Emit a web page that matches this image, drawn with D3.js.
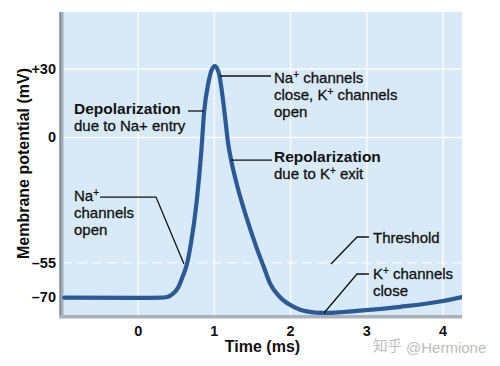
<!DOCTYPE html>
<html>
<head>
<meta charset="utf-8">
<script src="https://cdn.jsdelivr.net/npm/d3@7"></script>
<style>
  html, body { margin: 0; padding: 0; background: #ffffff; }
  svg { display: block; }
  text { font-family: "Liberation Sans", Arial, Helvetica, sans-serif; fill: #111; }
</style>
</head>
<body>
<svg id="chart" width="500" height="366"></svg>
<script>
// ---- data ----
const timeMs = [-0.97, 0, 0.3, 0.38, 0.46, 0.53, 0.59, 0.64, 0.69, 0.77, 0.83, 0.865, 0.92, 0.965, 1.008,
                1.06, 1.096, 1.14, 1.18, 1.22, 1.29, 1.42, 1.55, 1.65, 1.73, 1.86, 2.04, 2.21, 2.43,
                2.91, 3.44, 3.96, 4.25];
const potentialMv = [-70.3, -70.4, -70.3, -70, -68.5, -65.5, -60.5, -55.5, -47, -27.5, -5.5, 11, 23.7, 29.6, 31.3,
                     28, 20.8, 9, -2.5, -10, -20, -35, -48, -57, -64, -70, -74.3, -76.3, -77,
                     -76, -74.3, -72, -70];
const xTicks = [0, 1, 2, 3, 4];
const xTickLabels = ["0", "1", "2", "3", "4"];
const yTicks = [30, 0, -55, -70];
const yTickLabels = ["+30", "0", "\u201355", "\u201370"];
const yGrid = [30, 0];
const thresholdMv = -55;
const xTitle = "Time (ms)";
const yTitle = "Membrane potential (mV)";
const watermarkCjk = "知乎";
const watermarkLatin = "@Hermione";

// annotations: text lines ("^" marks a superscript char), leader path & text anchor in data units
const annotations = [
  { lines: [["Na", "^+", " channels"], ["close, K", "^+", " channels"], ["open"]], bold: [false, false, false],
    path: [[1.074, 26.93], [1.743, 26.93]], text: [1.783, 23.86] },
  { lines: [["Depolarization"], ["due to Na+ entry"]], bold: [true, false],
    path: [[0.654, 11.58], [0.864, 11.58]], text: [-0.842, 10.48] },
  { lines: [["Repolarization"], ["due to K", "^+", " exit"]], bold: [true, false],
    path: [[1.214, -9.95], [1.756, -9.95]], text: [1.783, -11.01] },
  { lines: [["Na", "^+"], ["channels"], ["open"]], bold: [false, false, false],
    path: [[-0.501, -26.18], [0.234, -26.18], [0.601, -55.57]], text: [-0.842, -27.9] },
  { lines: [["Threshold"]], bold: [false],
    path: [[3.029, -43.69], [2.872, -43.69], [2.531, -55.53]], text: [3.082, -46.3] },
  { lines: [["K", "^+", " channels"], ["close"]], bold: [false, false],
    path: [[3.029, -59.92], [2.872, -59.92], [2.439, -77.02]], text: [3.082, -62.1] }
];

// ---- layout ----
const svg = d3.select("#chart");
const pLeft = 62, pRight = 462, pTop = 12, pBottom = 315;
const x = d3.scaleLinear().domain([-1.0, 4.25]).range([pLeft, pRight]);
const y = d3.scaleLinear().domain([-77.9, 55.0]).range([pBottom, pTop]);

// panel background
svg.append("rect").attr("x", pLeft).attr("y", pTop).attr("width", pRight - pLeft).attr("height", pBottom - pTop)
  .attr("fill", "#d8eaf7");

// grid
svg.append("g").selectAll("line").data(xTicks).join("line")
  .attr("x1", d => x(d)).attr("x2", d => x(d)).attr("y1", pTop).attr("y2", pBottom)
  .attr("stroke", "#ffffff").attr("stroke-width", 1.5).attr("opacity", 0.9);
svg.append("g").selectAll("line").data(yGrid).join("line")
  .attr("x1", pLeft).attr("x2", pRight).attr("y1", d => y(d)).attr("y2", d => y(d))
  .attr("stroke", "#ffffff").attr("stroke-width", 1.5).attr("opacity", 0.9);
svg.append("line").attr("x1", pLeft).attr("x2", pRight).attr("y1", y(thresholdMv)).attr("y2", y(thresholdMv))
  .attr("stroke", "#ffffff").attr("stroke-width", 1.3).attr("stroke-dasharray", "10,5").attr("opacity", 0.85);

// frame bars (left and bottom)
svg.append("rect").attr("x", pLeft - 3).attr("y", pTop).attr("width", 4.5).attr("height", pBottom - pTop + 3)
  .attr("fill", "#a3aeb8");
svg.append("line").attr("x1", pLeft - 1.5).attr("x2", pLeft - 1.5).attr("y1", pTop).attr("y2", pBottom + 3)
  .attr("stroke", "#7f8e9b").attr("stroke-width", 1.2);
svg.append("rect").attr("x", pLeft - 3).attr("y", pBottom).attr("width", pRight - pLeft + 3).attr("height", 3.5)
  .attr("fill", "#aab3bb");

// curve
svg.append("defs").append("clipPath").attr("id", "clip").append("rect")
  .attr("x", pLeft).attr("y", pTop).attr("width", pRight - pLeft).attr("height", pBottom - pTop);
const pts = timeMs.map((t, i) => [t, potentialMv[i]]);
svg.append("path").datum(pts)
  .attr("clip-path", "url(#clip)")
  .attr("d", d3.line().x(d => x(d[0])).y(d => y(d[1])).curve(d3.curveMonotoneX))
  .attr("fill", "none").attr("stroke", "#2c5a96").attr("stroke-width", 4.2).attr("stroke-linecap", "round");

// annotations
const lineGen = d3.line().x(d => x(d[0])).y(d => y(d[1]));
annotations.forEach(a => {
  svg.append("path").attr("d", lineGen(a.path)).attr("fill", "none")
    .attr("stroke", "#111").attr("stroke-width", 1.3);
  const tx = x(a.text[0]), ty = y(a.text[1]);
  a.lines.forEach((segs, i) => {
    const t = svg.append("text").attr("x", tx).attr("y", ty + i * 17)
      .attr("font-size", a.bold[i] ? 15.5 : 15).attr("font-weight", a.bold[i] ? "bold" : "normal")
      .style("stroke", "#111").style("stroke-width", a.bold[i] ? 0 : 0.3);
    let raised = false;
    segs.forEach(s => {
      if (s.startsWith("^")) {
        t.append("tspan").attr("dy", -5).attr("font-size", 10).text(s.slice(1));
        raised = true;
      } else {
        const sp = t.append("tspan").text(s);
        if (raised) { sp.attr("dy", 5); raised = false; }
      }
    });
  });
});

// y tick labels
svg.append("g").selectAll("text").data(yTicks).join("text")
  .attr("x", 56).attr("y", d => y(d) + 5).attr("text-anchor", "end")
  .attr("font-size", 14.5).attr("font-weight", "bold")
  .text((d, i) => yTickLabels[i]);

// x tick labels
svg.append("g").selectAll("text").data(xTicks).join("text")
  .attr("x", d => x(d)).attr("y", 336).attr("text-anchor", "middle")
  .attr("font-size", 14.5).attr("font-weight", "bold")
  .text((d, i) => xTickLabels[i]);

// axis titles
svg.append("text").attr("x", (x(1) + x(2)) / 2 + 10).attr("y", 352).attr("text-anchor", "middle")
  .attr("font-size", 16).attr("font-weight", "bold").text(xTitle);
svg.append("text").attr("transform", "translate(29," + 163.5 + ") rotate(-90)")
  .attr("text-anchor", "middle").attr("font-size", 16).attr("font-weight", "bold").text(yTitle);

// watermark
svg.append("text").attr("x", 373).attr("y", 351)
  .style("font-family", "'Noto Sans CJK SC', sans-serif")
  .attr("font-size", 14.5).style("fill", "#bdbdbd").text(watermarkCjk);
svg.append("text").attr("x", 406).attr("y", 353)
  .attr("font-size", 15).style("fill", "#bdbdbd").text(watermarkLatin);
</script>
</body>
</html>
